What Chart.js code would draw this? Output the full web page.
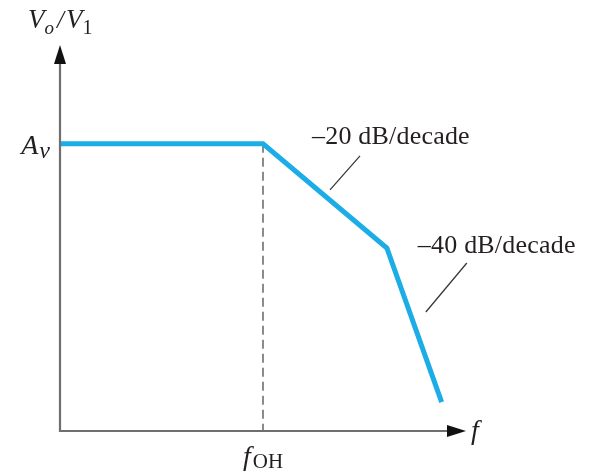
<!DOCTYPE html>
<html><head><meta charset="utf-8">
<script src="https://cdn.jsdelivr.net/npm/chart.js@4/dist/chart.umd.min.js"></script>
<style>html,body{margin:0;padding:0;background:#fff}canvas{display:block}</style>
</head><body>
<canvas id="c" width="594" height="472"></canvas>
<script>
// Asymptotic (Bode) magnitude response: log frequency on x, gain on y
const freqPoints = [0, 50, 80.5, 94];
const gainPoints = [74.4, 74.4, 47.4, 7.5];
const cornerFreq = 50;      // f_OH
const midbandGain = 74.4;   // A_v
const slopeLabels = ['\u201320 dB/decade', '\u201340 dB/decade'];

const SERIF = '"Liberation Serif", "Times New Roman", serif';
const INK = '#231f20';
const AXIS = '#6f6f6f';
const TRACE = '#1cade6';

// Draw a run of text pieces (with subscripts) starting at x, baseline y
function drawRuns(ctx, x, y, runs, align) {
  let total = 0;
  runs.forEach(r => { ctx.font = r.font; total += ctx.measureText(r.t).width + (r.gap || 0); });
  let cx = align === 'right' ? x - total : align === 'center' ? x - total / 2 : x;
  runs.forEach(r => {
    ctx.font = r.font;
    ctx.fillText(r.t, cx, y + (r.dy || 0));
    cx += ctx.measureText(r.t).width + (r.gap || 0);
  });
}

const diagram = {
  id: 'diagram',
  beforeDatasetsDraw(chart) {
    const { ctx, scales: { x, y } } = chart;
    // dashed guide at the corner frequency
    ctx.save();
    ctx.strokeStyle = AXIS;
    ctx.lineWidth = 1.6;
    ctx.setLineDash([9, 5]);
    ctx.beginPath();
    ctx.moveTo(x.getPixelForValue(cornerFreq), y.getPixelForValue(midbandGain));
    ctx.lineTo(x.getPixelForValue(cornerFreq), y.getPixelForValue(0));
    ctx.stroke();
    ctx.restore();
  },
  afterDatasetsDraw(chart) {
    const { ctx, scales: { x, y } } = chart;
    const x0 = x.getPixelForValue(0), y0 = y.getPixelForValue(0);
    const xEnd = x.getPixelForValue(x.max), yTop = y.getPixelForValue(y.max);
    ctx.save();
    // axes
    ctx.strokeStyle = AXIS;
    ctx.lineWidth = 2.2;
    ctx.beginPath();
    ctx.moveTo(x0, yTop + 10);
    ctx.lineTo(x0, y0);
    ctx.lineTo(xEnd - 10, y0);
    ctx.stroke();
    // arrow heads
    ctx.fillStyle = '#111';
    ctx.beginPath();
    ctx.moveTo(x0, yTop);
    ctx.lineTo(x0 - 6, yTop + 19);
    ctx.lineTo(x0 + 6, yTop + 19);
    ctx.closePath();
    ctx.fill();
    ctx.beginPath();
    ctx.moveTo(xEnd, y0);
    ctx.lineTo(xEnd - 19, y0 - 6);
    ctx.lineTo(xEnd - 19, y0 + 6);
    ctx.closePath();
    ctx.fill();

    // leader lines to the slope labels
    const px = freqPoints.map(v => x.getPixelForValue(v));
    const py = gainPoints.map(v => y.getPixelForValue(v));
    ctx.strokeStyle = '#3a3a3a';
    ctx.lineWidth = 1.3;
    ctx.beginPath();
    ctx.moveTo(px[1] + 67, py[1] + 46);
    ctx.lineTo(px[1] + 97, py[1] + 12);
    ctx.moveTo(px[2] + 39, py[2] + 64);
    ctx.lineTo(px[2] + 80, py[2] + 15);
    ctx.stroke();

    // slope labels
    ctx.fillStyle = INK;
    ctx.textBaseline = 'alphabetic';
    ctx.textAlign = 'left';
    ctx.font = `26px ${SERIF}`;
    ctx.letterSpacing = '0.2px';
    ctx.fillText(slopeLabels[0], px[1] + 49, py[1] + 0);
    ctx.fillText(slopeLabels[1], px[2] + 31, py[2] + 5);
    ctx.letterSpacing = '0px';

    // y-axis title V_o / V_1
    drawRuns(ctx, 28, 28, [
      { t: 'V', font: `italic 27px ${SERIF}` },
      { t: 'o', font: `italic 19px ${SERIF}`, dy: 6, gap: 3 },
      { t: '/', font: `italic 25px ${SERIF}`, gap: 2 },
      { t: 'V', font: `italic 27px ${SERIF}` },
      { t: '1', font: `20px ${SERIF}`, dy: 6 }
    ]);
    // midband gain A_v
    drawRuns(ctx, x0 - 10, y.getPixelForValue(midbandGain) + 10, [
      { t: 'A', font: `italic 28px ${SERIF}`, gap: 1 },
      { t: 'v', font: `italic 24px ${SERIF}`, dy: 4 }
    ], 'right');
    // corner frequency f_OH
    drawRuns(ctx, x.getPixelForValue(cornerFreq), y0 + 34, [
      { t: 'f', font: `italic 28px ${SERIF}`, gap: 2 },
      { t: 'OH', font: `21px ${SERIF}`, dy: 3 }
    ], 'center');
    // x-axis title f
    drawRuns(ctx, xEnd + 5, y0 + 8, [{ t: 'f', font: `italic 28px ${SERIF}` }]);
    ctx.restore();
  }
};

new Chart(document.getElementById('c'), {
  type: 'line',
  data: {
    datasets: [{
      data: freqPoints.map((f, i) => ({ x: f, y: gainPoints[i] })),
      borderColor: TRACE,
      borderWidth: 5,
      pointRadius: 0,
      tension: 0,
      fill: false,
      clip: false,
      borderJoinStyle: 'miter'
    }]
  },
  options: {
    responsive: false,
    animation: false,
    events: [],
    layout: { padding: { left: 60, right: 128, top: 45, bottom: 41 } },
    plugins: { legend: { display: false }, tooltip: { enabled: false } },
    scales: {
      x: { type: 'linear', min: 0, max: 100, display: false },
      y: { type: 'linear', min: 0, max: 100, display: false }
    }
  },
  plugins: [diagram]
});
</script>
</body></html>
